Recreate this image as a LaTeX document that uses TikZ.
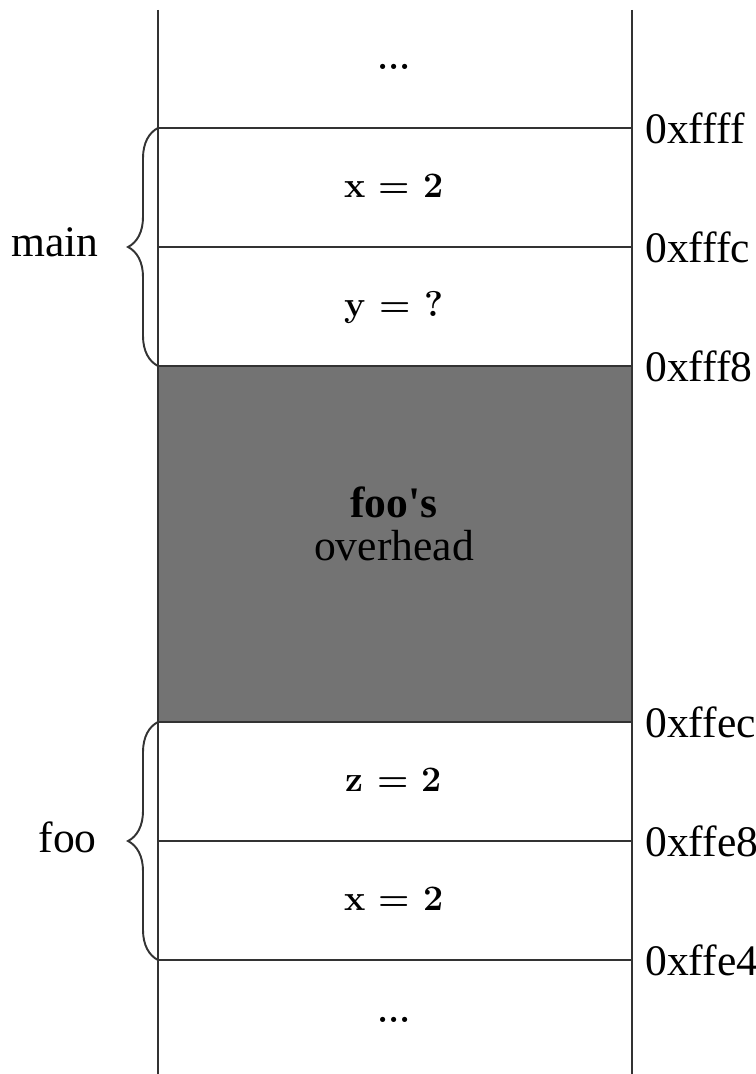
\documentclass[tikz,border=0pt]{standalone}
\usepackage{fontspec}
\newfontfamily\labelfont{Liberation Serif}
\usetikzlibrary{decorations.pathreplacing,positioning}
\definecolor{StackLine}{HTML}{333333}
\definecolor{FrameGray}{HTML}{737373}
\newcommand{\labelsize}{\fontsize{24.8}{25}\selectfont}
\newcommand{\cellsize}{\fontsize{20.4}{24}\selectfont}

\begin{document}
\begin{tikzpicture}[x=0.02cm,y=-0.02cm,
    wall/.style={StackLine,line width=1.1pt},
    slot/.style={StackLine,line width=1.4pt},
    cell/.style={anchor=base,inner sep=0pt,font=\cellsize\bfseries},
    addr/.style={anchor=west,inner sep=0pt,font=\labelfont\labelsize},
    frame/.style={anchor=base east,inner sep=0pt,font=\labelfont\labelsize},
    span/.style={StackLine,line width=1.1pt,decorate,
      decoration={brace,amplitude=0.6cm}}]
  \useasboundingbox (0,0) rectangle (756,1074);
  % foo's overhead block
  \fill[FrameGray] (158,366) rectangle (632,722);
  % stack walls
  \draw[wall] (158,10) -- (158,1074);
  \draw[wall] (632,10) -- (632,1074);
  % slot boundaries and their addresses
  \foreach \yy/\ad/\nm in {128/0xffff/a1,247/0xfffc/a2,366/0xfff8/a3,
      722/0xffec/a4,841/0xffe8/a5,960/0xffe4/a6} {
    \draw[slot] (158,\yy) -- (632,\yy);
    \node[addr] (\nm) at (645,\yy) {\ad};
  }
  % slot contents
  \node[cell] (topdots) at (394,70) {...};
  \node[cell] (mainx) at (394,197.5) {x = 2};
  \node[cell] (mainy) at (394,316.5) {y = ?};
  \node[cell] (fooz) at (394,791) {z = 2};
  \node[cell] (foox) at (394,910) {x = 2};
  \node[cell] (botdots) at (394,1022) {...};
  \node[anchor=base,inner sep=0pt,font=\labelfont\labelsize\bfseries] (ovhname) at (394,517) {foo's};
  \node[anchor=base,inner sep=0pt,font=\labelfont\labelsize] (ovh) at (394,560) {overhead};
  % frames
  \draw[span] (158,366) -- (158,128);
  \draw[span] (158,960) -- (158,722);
  \node[frame] (mainframe) at (99,257) {main};
  \node[frame] (fooframe) at (97,852) {foo};
\end{tikzpicture}
\end{document}
